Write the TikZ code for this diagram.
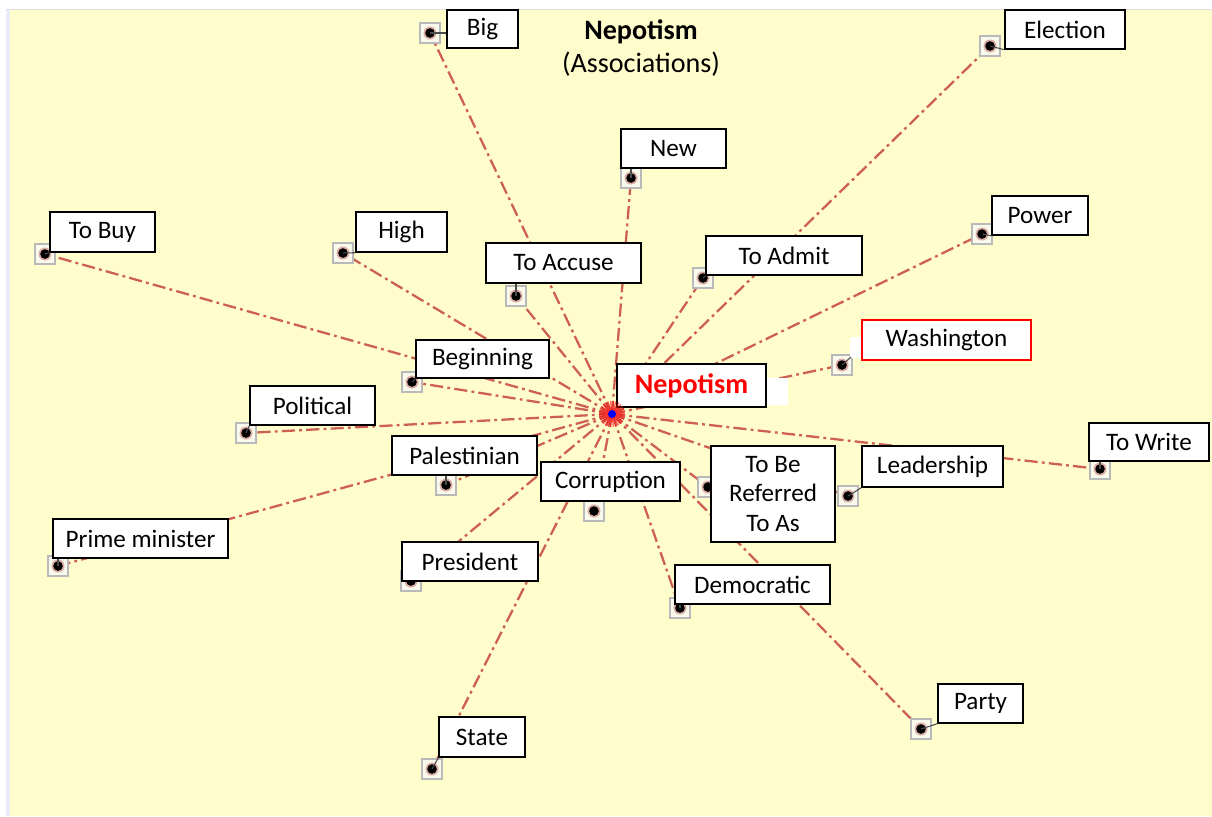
\documentclass[tikz,border=0pt]{standalone}
\usepackage{fontspec}
\setmainfont{Carlito}
\definecolor{paper}{RGB}{255,253,204}
\definecolor{edgeblue}{RGB}{232,237,248}
\definecolor{assoc}{RGB}{205,95,84}
\definecolor{mkgray}{RGB}{185,185,185}
\begin{document}
\begin{tikzpicture}[x=0.02cm,y=-0.02cm,
  lbl/.style={draw=black, line width=0.8pt, fill=white, inner sep=0pt,
    align=center, font=\fontsize{14.3}{17}\selectfont},
  sz/.style 2 args={minimum width=#1*0.02cm, minimum height=#2*0.02cm},
  assocline/.style={draw=assoc, line width=1.3pt,
    dash pattern=on 7.5pt off 2.4pt on 1.6pt off 2.4pt},
  leader/.style={draw=black!70, line width=0.6pt},
  mkbox/.style={draw=mkgray, line width=0.7pt, fill=paper!85!gray!30,
    minimum size=20*0.02cm, inner sep=0pt}]

% page background
\useasboundingbox (0,0) rectangle (1212,816);
\fill[white] (0,0) rectangle (1212,816);
\fill[edgeblue] (6,9) rectangle (10,816);
\fill[paper] (10,9) rectangle (1212,816);
\draw[black!12, line width=0.4pt] (6,9) -- (1212,9);

% title
\node[font=\fontsize{16}{19}\selectfont\bfseries] (title1) at (641,32) {Nepotism};
\node[font=\fontsize{16}{19}\selectfont] (title2) at (641,64) {(Associations)};

% hub and associated word markers
\coordinate (c) at (612,414);
\foreach \n/\x/\y in {big/430/33, elec/990/46, new/631/178, buy/45/254,
    high/343/253, power/982/234, accuse/516/296, admit/703/278,
    wash/842/365, begin/412/382, polit/246/433, write/1100/469,
    lead/848/496, pal/446/485, corr/594/511, refer/708/487,
    prime/58/566, pres/411/581, demo/680/608, party/921/729, state/432/769}
  \coordinate (m-\n) at (\x,\y);

% association lines from the hub
\foreach \n in {big,elec,new,buy,high,power,accuse,admit,wash,begin,polit,
    write,lead,pal,corr,refer,prime,pres,demo,party,state}
  \draw[assocline] (c) -- (m-\n);

% markers
\foreach \n in {big,elec,new,buy,high,power,accuse,admit,wash,begin,polit,
    write,lead,pal,corr,refer,prime,pres,demo,party,state}
{
  \node[mkbox] (b-\n) at (m-\n) {};
  \fill[red!60!black, opacity=0.3] (m-\n) circle (6.5);
  \fill[black] (m-\n) circle (4.8);
}

% labels
\node[lbl,sz={71}{38}] (big) at (482.5,29) {Big};
\node[lbl,sz={120}{39}] (elec) at (1065,29.5) {Election};
\node[lbl,sz={105}{39}] (new) at (673.5,148.5) {New};
\node[lbl,sz={105}{40}] (buy) at (102.5,232) {To Buy};
\node[lbl,sz={91}{40}] (high) at (401.5,232) {High};
\node[lbl,sz={96}{39}] (power) at (1040,215.5) {Power};
\node[lbl,sz={155}{40}] (accuse) at (563.5,263) {To Accuse};
\node[lbl,sz={156}{39}] (admit) at (784,255.5) {To Admit};
\fill[white] (850,337) rectangle (862,358);
\node[lbl,sz={169}{40},draw=red] (wash) at (946.5,340) {Washington};
\node[lbl,sz={133}{38}] (begin) at (482.5,359) {Beginning};
\node[lbl,sz={125}{39}] (polit) at (312.5,405.5) {Political};
\node[lbl,sz={120}{38}] (write) at (1149,442) {To Write};
\node[lbl,sz={141}{41}] (lead) at (932.5,466.5) {Leadership};
\node[lbl,sz={145}{39}] (pal) at (464.5,455.5) {Palestinian};
\node[lbl,sz={139}{39}] (corr) at (610.5,481.5) {Corruption};
\node[lbl,sz={124}{96}] (refer) at (773,494) {To Be\\Referred\\To As};
\node[lbl,sz={175}{39}] (prime) at (140.5,538.5) {Prime minister};
\node[lbl,sz={136}{39}] (pres) at (470,561.5) {President};
\node[lbl,sz={155}{39}] (demo) at (752.5,584.5) {Democratic};
\node[lbl,sz={85}{39}] (party) at (980.5,703.5) {Party};
\node[lbl,sz={86}{40}] (state) at (482,737) {State};

% leaders from markers to their labels
\draw[leader] (m-big) -- (m-big -| big.west);
\draw[leader] (m-elec) -- (elec.south west);
\draw[leader] (m-new) -- (m-new |- new.south);
\draw[leader] (m-buy) -- (buy.south west);
\draw[leader] (m-high) -- (high.south west);
\draw[leader] (m-power) -- (power.south west);
\draw[leader] (m-accuse) -- (m-accuse |- accuse.south);
\draw[leader] (m-admit) -- (admit.south west);
\draw[leader] (m-wash) -- (851,357);
\draw[leader] (m-begin) -- (begin.south west);
\draw[leader] (m-polit) -- (polit.south west);
\draw[leader] (m-write) -- (m-write |- write.south);
\draw[leader] (m-lead) -- (lead.south west);
\draw[leader] (m-pal) -- (m-pal |- pal.south);
\draw[leader] (m-prime) -- (m-prime |- prime.south);
\draw[leader] (m-demo) -- (m-demo |- demo.south);
\draw[leader] (m-party) -- (party.south west);
\draw[leader] (m-state) -- (state.south west);

% central word
\fill[white] (766,378) rectangle (788,405);
\node[lbl,sz={149}{43},font=\fontsize{16}{19}\selectfont\bfseries,text=red]
  (hub) at (691.5,385.5) {Nepotism};

% hub burst
\foreach \a in {0,12,...,348}
  \draw[red, line width=0.7pt, opacity=0.6] (c) -- ++(\a:13);
\fill[red!70, opacity=0.4] (c) circle (8);
\fill[blue] (c) circle (4);
\end{tikzpicture}
\end{document}
